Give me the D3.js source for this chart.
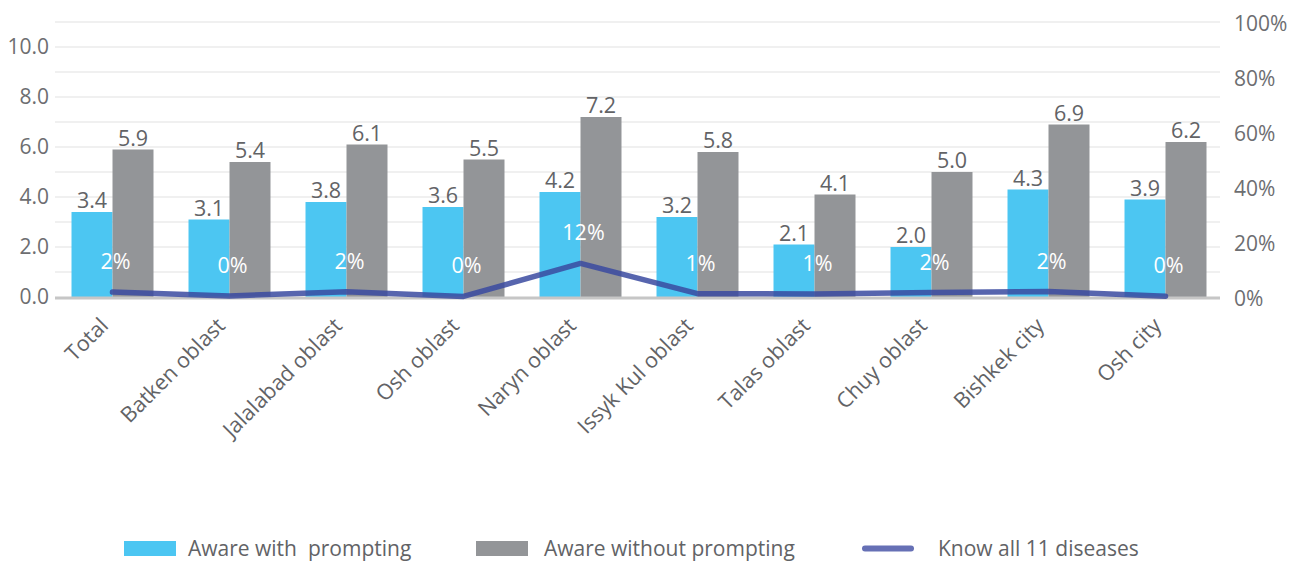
<!DOCTYPE html>
<html><head><meta charset="utf-8">
<script src="https://cdn.jsdelivr.net/npm/d3@7"></script>
<style>body{margin:0;background:#fff}svg{display:block;font-family:"Open Sans",sans-serif}</style>
</head><body><svg id="c" width="1300" height="563"></svg>
<script>
const categories = ["Total","Batken oblast","Jalalabad oblast","Osh oblast","Naryn oblast","Issyk Kul oblast","Talas oblast","Chuy oblast","Bishkek city","Osh city"];
const awareWithPrompting = [3.4,3.1,3.8,3.6,4.2,3.2,2.1,2.0,4.3,3.9];
const awareWithoutPrompting = [5.9,5.4,6.1,5.5,7.2,5.8,4.1,5.0,6.9,6.2];
const knowAll11 = [1.8,0.4,1.9,0.2,12.2,1.2,1.1,1.6,2.0,0.3];
const leftTicks = [0,2,4,6,8,10];
const rightTicks = [0,20,40,60,80,100];
const seriesNames = ["Aware with  prompting","Aware without prompting","Know all 11 diseases"];

const svg = d3.select("#c");
const x0 = 54, x1 = 1224, yTop = 22, yBot = 297;
const x = d3.scaleBand().domain(categories).range([x0,x1]).paddingInner(0).paddingOuter(0);
const xs = d3.scaleBand().domain([0,1]).range([0,x.bandwidth()]).paddingInner(0).paddingOuter(0.427);
const y = d3.scaleLinear().domain([0,11]).range([yBot,yTop]);
const yr = d3.scaleLinear().domain([0,100]).range([yBot,yTop]);
const FS = 21, LFS = 21.5;

// gridlines
const grid = d3.range(1,12);
svg.append("g").selectAll("line").data(grid).join("line")
  .attr("x1",55).attr("x2",1220).attr("y1",d=>y(d)).attr("y2",d=>y(d))
  .attr("stroke","#ebebeb").attr("stroke-width",1.5);

// left axis
const la = svg.append("g").attr("transform",`translate(55,0)`)
  .call(d3.axisLeft(y).tickValues(leftTicks).tickFormat(d3.format(".1f")).tickSize(0).tickPadding(6));
la.select(".domain").remove();
la.selectAll("text").attr("font-size",FS).attr("fill","#6d6e71").attr("font-family","Open Sans");

// right axis
const ra = svg.append("g").attr("transform",`translate(1220,0)`)
  .call(d3.axisRight(yr).tickValues(rightTicks).tickFormat(d=>d+"%").tickSize(0).tickPadding(14));
ra.select(".domain").remove();
ra.selectAll("text").attr("font-size",FS).attr("fill","#6d6e71").attr("font-family","Open Sans").attr("dy","0.4em");

const colors = ["#4cc6f2","#939598"];
const series = [awareWithPrompting, awareWithoutPrompting];
series.forEach((s,i)=>{
  const g = svg.append("g");
  g.selectAll("rect").data(s).join("rect")
    .attr("x",(d,j)=>x(categories[j])+xs(i))
    .attr("width",xs.bandwidth())
    .attr("y",d=>y(d)).attr("height",d=>y(0)-y(d))
    .attr("fill",colors[i]);
  g.selectAll("text").data(s).join("text")
    .attr("x",(d,j)=>x(categories[j])+xs(i)+xs.bandwidth()/2)
    .attr("y",d=>y(d)-4)
    .attr("text-anchor","middle").attr("font-size",LFS).attr("fill","#626366")
    .text(d=>d.toFixed(1));
});

// baseline
svg.append("line").attr("x1",55).attr("x2",1220).attr("y1",y(0)+1).attr("y2",y(0)+1)
  .attr("stroke","#c6c6c6").attr("stroke-width",3);

// line
const cx = c => x(c)+x.bandwidth()/2;
svg.append("path").datum(knowAll11)
  .attr("d",d3.line().x((d,j)=>cx(categories[j])).y(d=>yr(d)))
  .attr("fill","none").attr("stroke","#3a4aa0").attr("stroke-opacity",0.85)
  .attr("stroke-width",5.5).attr("stroke-linecap","round").attr("stroke-linejoin","round");
svg.append("g").selectAll("text").data(knowAll11).join("text")
  .attr("x",(d,j)=>cx(categories[j])+3).attr("y",d=>yr(d)-30+7)
  .attr("text-anchor","middle").attr("font-size",LFS).attr("fill","#ffffff")
  .text(d=>Math.round(d)+"%");

// x labels
svg.append("g").selectAll("text").data(categories).join("text")
  .attr("transform",d=>`translate(${cx(d)-3},${y(0)+30}) rotate(-45)`)
  .attr("text-anchor","end").attr("font-size",LFS).attr("fill","#626366")
  .text(d=>d);

// legend
const leg = [
  {n:seriesNames[0], x:124, t:"rect", c:"#4cc6f2", g:64},
  {n:seriesNames[1], x:476, t:"rect", c:"#939598", g:68},
  {n:seriesNames[2], x:862, t:"line", c:"#6670b5", g:76}
];
const lg = svg.append("g");
leg.forEach(l=>{
  if(l.t==="rect") lg.append("rect").attr("x",l.x).attr("y",541).attr("width",52).attr("height",15).attr("fill",l.c);
  else lg.append("line").attr("x1",l.x+3).attr("x2",l.x+49).attr("y1",548.5).attr("y2",548.5).attr("stroke",l.c).attr("stroke-width",6).attr("stroke-linecap","round");
  lg.append("text").attr("x",l.x+l.g).attr("y",556).attr("font-size",21).attr("fill","#626366")
    .style("white-space","pre").attr("xml:space","preserve").text(l.n);
});
</script></body></html>
